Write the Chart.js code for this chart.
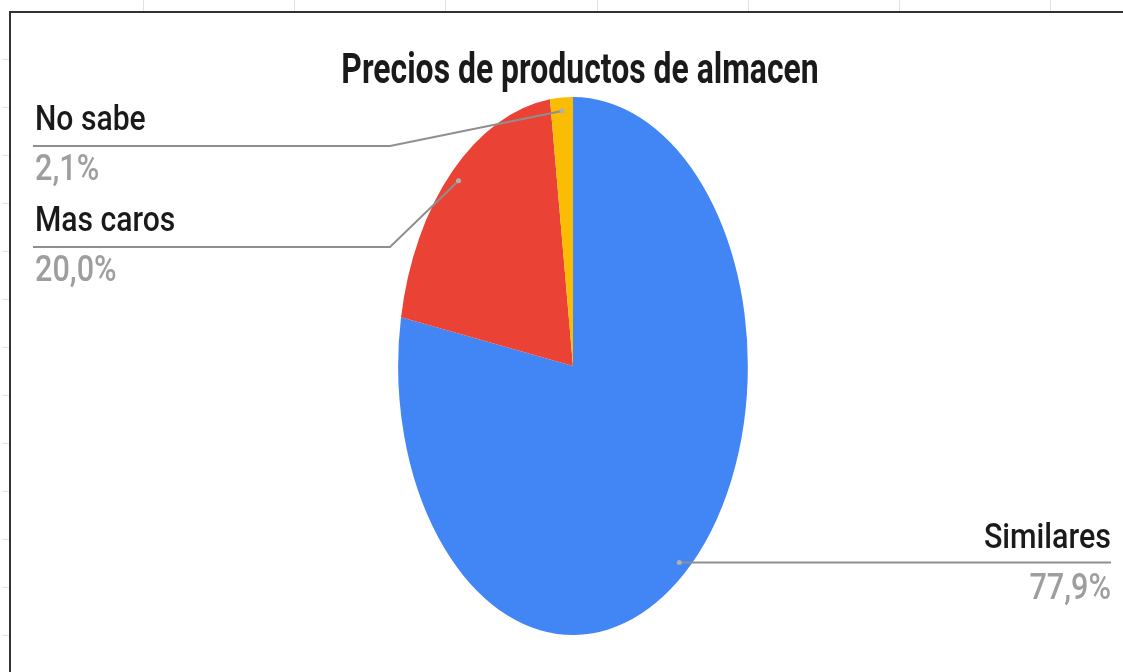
<!DOCTYPE html>
<html>
<head>
<meta charset="utf-8">
<script src="https://cdn.jsdelivr.net/npm/chart.js@4"></script>
<style>
  html, body { margin: 0; padding: 0; background: #fff; }
  #wrap { position: relative; width: 1123px; height: 672px; }
</style>
</head>
<body>
<div id="wrap"><canvas id="pieChart"></canvas></div>
<script>
const chartTitle = 'Precios de productos de almacen';
const categories = ['Similares', 'Mas caros', 'No sabe'];
const values = [77.9, 20.0, 2.1];
const colors = ['#4285f4', '#ea4335', '#fbbc04'];

const SX = 0.65;          // horizontal squash of the pie (drawn as an ellipse)
const FONT = 'Roboto, "Liberation Sans", sans-serif';

function pct(v) {
    return v.toFixed(1).replace('.', ',') + '%';
}

// text with its own horizontal squash, so glyphs look condensed
function drawText(ctx, text, x, y, align, font, color, k) {
    ctx.save();
    ctx.font = font;
    ctx.fillStyle = color;
    ctx.textAlign = align;
    ctx.textBaseline = 'alphabetic';
    ctx.translate(x, y);
    ctx.scale(k, 1);
    ctx.fillText(text, 0, 0);
    ctx.restore();
}

// sheet background: faint cell lines and the dark frame of the chart box
const frame = {
    id: 'frame',
    beforeDraw(chart) {
        const ctx = chart.ctx;
        ctx.save();
        ctx.strokeStyle = '#e3e3e3';
        ctx.lineWidth = 1;
        for (let x = 143; x < 1123; x += 151.2) {
            ctx.beginPath();
            ctx.moveTo(Math.round(x) + 0.5, 0);
            ctx.lineTo(Math.round(x) + 0.5, 11);
            ctx.stroke();
        }
        for (let y = 59; y < 672; y += 48) {
            ctx.beginPath();
            ctx.moveTo(2, y + 0.5);
            ctx.lineTo(9, y + 0.5);
            ctx.stroke();
        }
        ctx.strokeStyle = '#333333';
        ctx.lineWidth = 2;
        ctx.beginPath();
        ctx.moveTo(1123, 12);
        ctx.lineTo(10, 12);
        ctx.lineTo(10, 672);
        ctx.stroke();
        ctx.restore();
    }
};

// squash the slices horizontally around the pie centre
const ellipse = {
    id: 'ellipse',
    beforeDatasetsDraw(chart) {
        const arc = chart.getDatasetMeta(0).data[0];
        const ctx = chart.ctx;
        ctx.save();
        ctx.translate(arc.x, 0);
        ctx.scale(SX, 1);
        ctx.translate(-arc.x, 0);
    },
    afterDatasetsDraw(chart) {
        chart.ctx.restore();
    }
};

// title plus leader lines and labels for each slice
const sliceLabels = {
    id: 'sliceLabels',
    afterDraw(chart) {
        const ctx = chart.ctx;
        const arcs = chart.getDatasetMeta(0).data;

        drawText(ctx, chartTitle, 580, 83, 'center', 'bold 42px ' + FONT, '#1a1a1a', 0.76);

        const left = [];
        const right = [];
        arcs.forEach((arc, i) => {
            const mid = (arc.startAngle + arc.endAngle) / 2;
            const r = arc.outerRadius * 0.95;
            const p = {
                i: i,
                x: arc.x + SX * r * Math.cos(mid),
                y: arc.y + r * Math.sin(mid)
            };
            (Math.cos(mid) < 0 ? left : right).push(p);
        });

        const nameFont = '500 35px ' + FONT;
        const valFont = '500 36px ' + FONT;

        function dot(p) {
            ctx.fillStyle = '#b0b0b0';
            ctx.beginPath();
            ctx.arc(p.x, p.y, 2.5, 0, Math.PI * 2);
            ctx.fill();
        }

        ctx.save();
        ctx.strokeStyle = '#8f8f8f';
        ctx.lineWidth = 2;

        // left column, stacked from the top
        left.sort((a, b) => a.y - b.y);
        left.forEach((p, n) => {
            const lineY = 146 + n * 101;
            ctx.beginPath();
            ctx.moveTo(p.x, p.y);
            ctx.lineTo(390, lineY);
            ctx.lineTo(33, lineY);
            ctx.stroke();
            dot(p);
            drawText(ctx, categories[p.i], 35, lineY - 16, 'left', nameFont, '#1a1a1a', 0.86);
            drawText(ctx, pct(values[p.i]), 35, lineY + 34, 'left', valFont, '#9e9e9e', 0.85);
        });

        // right column, level with the slice
        right.forEach(p => {
            const lineY = p.y;
            ctx.beginPath();
            ctx.moveTo(p.x, lineY);
            ctx.lineTo(1111, lineY);
            ctx.stroke();
            dot(p);
            drawText(ctx, categories[p.i], 1111, lineY - 14, 'right', nameFont, '#1a1a1a', 0.87);
            drawText(ctx, pct(values[p.i]), 1111, lineY + 37, 'right', valFont, '#9e9e9e', 0.85);
        });
        ctx.restore();
    }
};

const ctx = document.getElementById('pieChart').getContext('2d');
const chart = new Chart(ctx, {
    type: 'pie',
    data: {
        labels: categories,
        datasets: [{
            data: values,
            backgroundColor: colors,
            borderWidth: 0
        }]
    },
    options: {
        responsive: true,
        maintainAspectRatio: false,
        animation: false,
        devicePixelRatio: 1,
        layout: {
            padding: { top: 97, bottom: 37, left: 23, right: 0 }
        },
        plugins: {
            legend: { display: false },
            tooltip: { enabled: false },
            title: { display: false }
        }
    },
    plugins: [frame, ellipse, sliceLabels]
});
</script>
</body>
</html>
